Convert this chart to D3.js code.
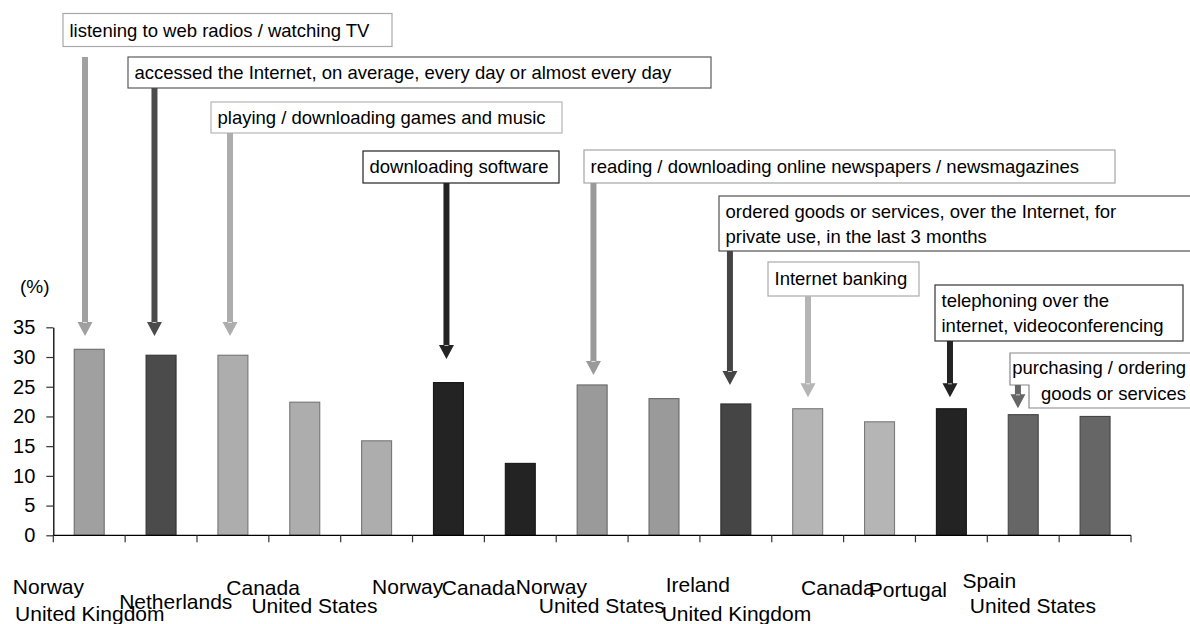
<!DOCTYPE html>
<html><head><meta charset="utf-8">
<script src="https://cdn.jsdelivr.net/npm/d3@7"></script>
<style>
html,body{margin:0;padding:0;background:#fff;}
svg{display:block;font-family:"Liberation Sans",Arial,sans-serif;}
</style></head><body>
<svg id="chart" width="1190" height="624"></svg>
<script>
// ---------------- data ----------------
const countries = ["Norway","United Kingdom","Netherlands","Canada","United States","Norway","Canada","Norway","United States","Ireland","United Kingdom","Canada","Portugal","Spain","United States"];
const values = [31.3,30.3,30.3,22.4,15.9,25.7,12.1,25.3,23.0,22.1,21.3,19.1,21.3,20.3,20.0];
const barActivity = [0,1,2,2,2,3,3,4,4,5,6,6,7,8,8];
const activities = [
  ["listening to web radios / watching TV"],
  ["accessed the Internet, on average, every day or almost every day"],
  ["playing / downloading games and music"],
  ["downloading software"],
  ["reading / downloading online newspapers / newsmagazines"],
  ["ordered goods or services, over the Internet, for","private use, in the last 3 months"],
  ["Internet banking"],
  ["telephoning over the","internet, videoconferencing"],
  ["purchasing / ordering","goods or services"]
];
const activityTarget = [0,1,2,5,7,9,10,12,13];
const yTicks = [0,5,10,15,20,25,30,35];
const unitLabel = "(%)";

// ---------------- styles ----------------
const activityColors = ["#a0a0a0","#4b4b4b","#adadad","#232323","#9a9a9a","#454545","#b5b5b5","#232323","#666666"];
const boxStroke = ["#a8a8a8","#5a5a5a","#b4b4b4","#222222","#a6a6a6","#505050","#ababab","#333333","#888888"];

// ---------------- layout ----------------
const plot = {x0: 53.3, x1: 1131, y0: 535.3, y1: 327.3};
// annotation boxes: [x, y, w, h]; text line baselines relative to box top
const boxes = [
  [63, 13.5, 329, 33],
  [128, 57, 583, 31],
  [211, 102, 351, 31],
  [363, 151, 196, 32],
  [584, 150, 531, 33],
  [719, 196, 490, 55],
  [768, 262, 151, 34],
  [935, 285, 248, 56],
  null
];
const lineBase = [[23],[22],[22],[22],[22.5],[22,47],[22.5],[22,47],null];
const arrowDx = [-4.2,-6.6,-2.9,-2,1.3,-5.9,0.3,-1.4,-5.3];
const arrowTop = [57,88,133,183,183,251,296,341,385];
const arrowTip = [33.54,33.54,33.54,29.67,26.97,25.29,23.22,23.22,21.37]; // in axis units
const annFont = 18.5, labelFont = 21, tickFont = 20;

// ---------------- chart ----------------
const svg = d3.select("#chart");
const x = d3.scaleBand().domain(d3.range(values.length))
  .range([plot.x0, plot.x1]).paddingInner(0.583).paddingOuter(0.2915);
const y = d3.scaleLinear().domain([0, 35]).range([plot.y0, plot.y1]);
const barColor = i => activityColors[barActivity[i]];

// bars
svg.append("g").selectAll("rect").data(values).join("rect")
  .attr("x", (d,i) => x(i)).attr("y", d => y(d))
  .attr("width", x.bandwidth()).attr("height", d => y(0) - y(d))
  .attr("fill", (d,i) => barColor(i))
  .attr("stroke", (d,i) => d3.color(barColor(i)).darker(1.1))
  .attr("stroke-width", 1.1);

// y axis
const gy = svg.append("g").attr("transform", `translate(${plot.x0},0)`)
  .call(d3.axisLeft(y).tickValues(yTicks).tickSize(7).tickPadding(11).tickSizeOuter(0));
gy.attr("font-size", tickFont).attr("font-family", "Liberation Sans, Arial, sans-serif");
gy.select(".domain").attr("stroke", "#000").attr("stroke-width", 1.3);
gy.selectAll(".tick line").attr("stroke", "#333").attr("stroke-width", 1.2);
gy.selectAll(".tick text").attr("fill", "#000");

svg.append("text").attr("x", 20).attr("y", 293).attr("font-size", 19).text(unitLabel);

// x axis
svg.append("line").attr("x1", plot.x0).attr("x2", plot.x1)
  .attr("y1", y(0)).attr("y2", y(0)).attr("stroke", "#000").attr("stroke-width", 1.3);
svg.append("g").selectAll("line").data(d3.range(values.length + 1)).join("line")
  .attr("x1", i => plot.x0 + i * x.step()).attr("x2", i => plot.x0 + i * x.step())
  .attr("y1", y(0)).attr("y2", y(0) + 7).attr("stroke", "#333").attr("stroke-width", 1.2);

// category labels (right-anchored, staggered by length as in the source)
const lab = svg.append("g").attr("font-size", labelFont).attr("fill", "#000");
countries.forEach((c, i) => {
  const t = lab.append("text").attr("text-anchor", "end").text(c);
  const w = t.node().getComputedTextLength();
  const cx = x(i) + x.bandwidth() / 2;
  t.attr("x", cx - 13 + 0.11 * w).attr("y", 570 + 0.343 * w);
});

// annotations
const ann = svg.append("g").attr("font-size", annFont).attr("fill", "#000");
activities.forEach((lines, k) => {
  const col = activityColors[k];
  const b = boxes[k];
  if (b) {
    ann.append("rect").attr("x", b[0]).attr("y", b[1]).attr("width", b[2]).attr("height", b[3])
      .attr("fill", "#fff").attr("stroke", boxStroke[k]).attr("stroke-width", 1.2);
    lines.forEach((ln, j) => {
      ann.append("text").attr("x", b[0] + 6.5).attr("y", b[1] + lineBase[k][j]).text(ln);
    });
  } else {
    const p = d3.path();
    p.moveTo(1010, 353); p.lineTo(1010, 385); p.lineTo(1029, 385); p.lineTo(1029, 408);
    p.lineTo(1200, 408); p.lineTo(1200, 353); p.closePath();
    ann.append("path").attr("d", p.toString()).attr("fill", "#fff")
      .attr("stroke", boxStroke[k]).attr("stroke-width", 1.2);
    ann.append("text").attr("x", 1186).attr("y", 374).attr("text-anchor", "end").text(lines[0]);
    ann.append("text").attr("x", 1186).attr("y", 399.5).attr("text-anchor", "end").text(lines[1]);
  }
  const i = activityTarget[k];
  const cx = x(i) + x.bandwidth() / 2 + arrowDx[k];
  const top = arrowTop[k], tip = y(arrowTip[k]);
  const hh = 14, sw = 3, hw = 7.5;
  const a = d3.path();
  a.moveTo(cx - sw, top); a.lineTo(cx + sw, top); a.lineTo(cx + sw, tip - hh);
  a.lineTo(cx + hw, tip - hh); a.lineTo(cx, tip); a.lineTo(cx - hw, tip - hh);
  a.lineTo(cx - sw, tip - hh); a.closePath();
  ann.append("path").attr("d", a.toString()).attr("fill", col);
  ann.append("line").attr("x1", cx - 2).attr("x2", cx + 2)
    .attr("y1", tip - hh + 0.5).attr("y2", tip - hh + 0.5)
    .attr("stroke", "#fff").attr("stroke-opacity", 0.7).attr("stroke-width", 1);
});
</script>
</body></html>
